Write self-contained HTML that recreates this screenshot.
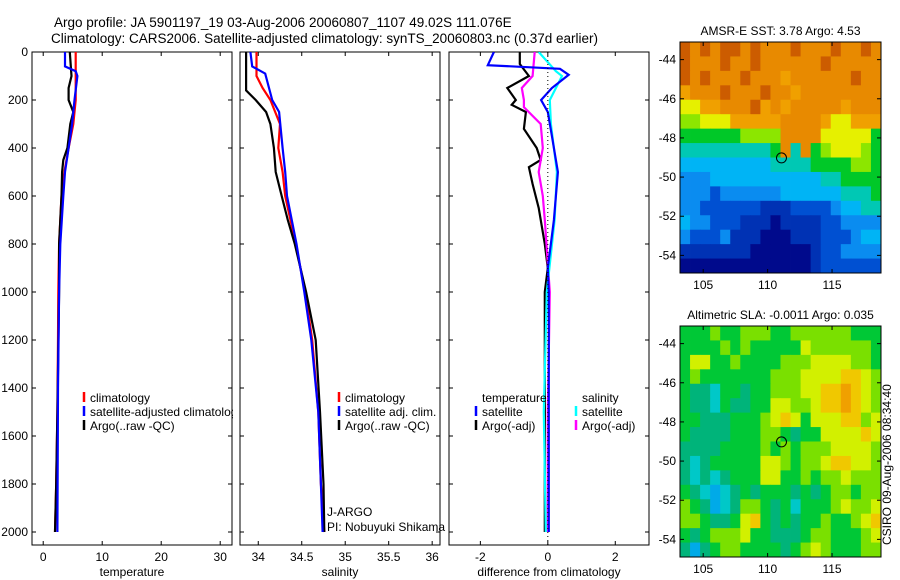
<!DOCTYPE html>
<html><head><meta charset="utf-8"><style>
body{margin:0;background:#fff}
svg{display:block;font-family:"Liberation Sans",sans-serif}
</style></head><body>
<svg id="c" width="900" height="580" viewBox="0 0 900 580"></svg>
<script>
// ---- data ----
const depthTicks=[0,200,400,600,800,1000,1200,1400,1600,1800,2000];
const tempTicks=[0,10,20,30];
const salTicks=[34,34.5,35,35.5,36];
const salTickLabels=['34','34.5','35','35.5','36'];
const diffTicks=[-2,0,2];
const lonTicks=[105,110,115];
const latTicks=[-44,-46,-48,-50,-52,-54];

const tClimD=[0,200,300,400,500,600,800,1000,1200,1500,1800,2000];
const tClimV=[5.5,5.5,5.1,4.3,3.6,3.1,2.7,2.55,2.5,2.4,2.2,2.0];
const tSatD=[0,60,80,100,200,300,400,500,600,800,1000,1400,2000];
const tSatV=[3.7,3.7,5.5,5.8,5.3,4.9,4.3,3.7,3.4,2.9,2.7,2.5,2.4];
const tArgD=[0,100,150,200,250,300,400,450,500,600,700,800,1000,1500,1800,2000];
const tArgV=[4.5,4.8,4.3,4.3,5.1,4.6,4.1,3.4,3.2,3.1,2.9,2.7,2.7,2.4,2.2,2.0];

const sClimD=[0,100,150,200,300,400,500,600,800,1000,1200,1500,1800,2000];
const sClimV=[33.98,33.98,34.05,34.14,34.25,34.23,34.28,34.31,34.43,34.54,34.62,34.69,34.72,34.76];
const sSatD=[0,60,90,200,250,400,500,600,800,1000,1200,1500,1800,2000];
const sSatV=[33.91,33.93,34.08,34.16,34.24,34.28,34.31,34.33,34.44,34.53,34.61,34.69,34.72,34.74];
const sArgD=[0,160,200,250,300,400,500,600,700,800,1000,1200,1500,1800,2000];
const sArgV=[33.86,33.86,33.97,34.09,34.14,34.18,34.2,34.27,34.34,34.42,34.55,34.66,34.71,34.75,34.76];

const dTSatD=[0,55,70,95,150,200,250,350,500,700,900,1000,2000];
const dTSatV=[-1.6,-1.78,0.36,0.62,0.12,-0.2,0,0.12,0.3,0.18,0,0.03,0.03];
const dSSatD=[0,80,100,200,300,500,700,1000,1500,2000];
const dSSatV=[-0.27,0.24,0.42,0.06,0.09,0.27,0.2,-0.03,-0.12,-0.06];
const dTArgD=[0,50,100,150,200,220,250,320,400,450,480,550,650,800,900,1000,1500,2000];
const dTArgV=[-0.83,-0.83,-0.56,-1.2,-0.95,-1.07,-0.65,-0.71,-0.33,-0.21,-0.56,-0.45,-0.27,-0.09,0,-0.09,-0.09,-0.09];
const dSArgD=[0,100,150,200,230,300,400,500,600,700,1000,1500,2000];
const dSArgV=[-0.39,-0.45,-0.77,-0.71,-0.71,-0.21,-0.15,-0.27,-0.15,-0.09,0.06,0,0];

const sstGrid=["bababbabaaabaaabaaba","baaabaabaaaaaabaaaaa","babaaabaaa9aaaaaabaa","9aaabaaabaa9aaaaaaaa",
"8899aaab9a9aaaaa9aaa","7788899999aaaa988999","6666667777aaaa888886","5555555556a5a6788876",
"44444444455556666776","33344444444444556666","33323333334444445556","33222222111222234455",
"43322211101111223333","32223111000111222344","11111110000001223333","00000000000001222222"];
const slaGrid=["33343344433444444333","33334343333354444443","35533433334445555443","34333333344455556654",
"32213323344455667654","32213223355445667654","33222333456535556645","32222333443233555565",
"22223333434344455554","21233333554344566554","21212333553343445444","32101232333232344344",
"43201244323133345445","44322356323233433456","32344453322234433345","20234433332345433344"];
const argoLon=111.076, argoLat=-49.02;

// ---- drawing ----
const svg=document.getElementById('c');const NS='http://www.w3.org/2000/svg';
function el(t,a,p){const e=document.createElementNS(NS,t);for(const k in a)e.setAttribute(k,a[k]);(p||svg).appendChild(e);return e;}
function txt(s,x,y,a,p){const e=el('text',Object.assign({x:x,y:y,'font-size':12,fill:'#000'},a||{}),p);e.textContent=s;return e;}
const Y0=52,YS=0.24, PT=52,PB=545;
const yD=d=>Y0+d*YS;
const panels=[{x0:32,x1:232,lo:-1.9,hi:32,name:'temperature'},{x0:240,x1:440,lo:33.79,hi:36.09,name:'salinity'},{x0:449,x1:649,lo:-2.93,hi:3.0,name:'difference'}];
const fx=(p,v)=>p.x0+(v-p.lo)/(p.hi-p.lo)*(p.x1-p.x0);

const t1=txt('Argo profile: JA 5901197_19 03-Aug-2006 20060807_1107 49.02S 111.076E',54,27,{'font-size':13.5});

const t2=txt('Climatology: CARS2006. Satellite-adjusted climatology: synTS_20060803.nc (0.37d earlier)',51,43,{'font-size':13.5});


const ticksets=[[tempTicks,tempTicks.map(String)],[salTicks,salTickLabels],[diffTicks,diffTicks.map(String)]];
const xl=['temperature','salinity','difference from climatology'];
panels.forEach((p,i)=>{
  const g=el('g',{});
  const cp=el('clipPath',{id:'cp'+i},g);el('rect',{x:p.x0,y:PT,width:p.x1-p.x0,height:PB-PT},cp);
  const fr=el('rect',{x:p.x0,y:PT,width:p.x1-p.x0,height:PB-PT,fill:'none',stroke:'#000','stroke-width':1},g);
  
  depthTicks.forEach(d=>{el('line',{x1:p.x0,x2:p.x0+4,y1:yD(d),y2:yD(d),stroke:'#000'},g);el('line',{x1:p.x1,x2:p.x1-4,y1:yD(d),y2:yD(d),stroke:'#000'},g);});
  const [tv,tl]=ticksets[i];
  tv.forEach((v,j)=>{const x=fx(p,v);el('line',{x1:x,x2:x,y1:PB,y2:PB-4,stroke:'#000'},g);el('line',{x1:x,x2:x,y1:PT,y2:PT+4,stroke:'#000'},g);
    const l=txt(tl[j],x,561,{'text-anchor':'middle'},g);});
  const xt=txt(xl[i],(p.x0+p.x1)/2,576,{'text-anchor':'middle'},g);
  p.g=g;
});
depthTicks.forEach(d=>{const l=txt(String(d),28,yD(d)+4,{'text-anchor':'end'});});
// zero dotted line in diff panel
const zl=el('line',{x1:fx(panels[2],0),x2:fx(panels[2],0),y1:PT,y2:PB,stroke:'#000','stroke-dasharray':'1,3'});


function series(p,i,D,V,col,name){
  const pts=D.map((d,k)=>fx(p,V[k]).toFixed(1)+','+yD(d).toFixed(1)).join(' ');
  const e=el('polyline',{points:pts,fill:'none',stroke:col,'stroke-width':2.2,'clip-path':'url(#cp'+i+')'},p.g);
  
}
const P=panels;
series(P[0],0,tClimD,tClimV,'#ff0000','temp-climatology-line');
series(P[0],0,tArgD,tArgV,'#000','temp-argo-line');
series(P[0],0,tSatD,tSatV,'#0000ff','temp-satellite-line');
series(P[1],1,sClimD,sClimV,'#ff0000','sal-climatology-line');
series(P[1],1,sArgD,sArgV,'#000','sal-argo-line');
series(P[1],1,sSatD,sSatV,'#0000ff','sal-satellite-line');
series(P[2],2,dTArgD,dTArgV,'#000','dtemp-argo-line');
series(P[2],2,dSArgD,dSArgV,'#ff00ff','dsal-argo-line');
series(P[2],2,dSSatD,dSSatV,'#00ffff','dsal-satellite-line');
series(P[2],2,dTSatD,dTSatV,'#0000ff','dtemp-satellite-line');

function legend(x,y,items,name,clip){
  const g=el('g',{});
  if(clip){const c=el('clipPath',{id:name+'c'},g);el('rect',{x:x-5,y:y-10,width:clip,height:50},c);g.setAttribute('clip-path','url(#'+name+'c)');}
  items.forEach((it,k)=>{const yy=y+k*14;
    if(it[1]){const b=el('line',{x1:x,x2:x,y1:yy-5,y2:yy+5,stroke:it[1],'stroke-width':2.5},g);}
    const t=txt(it[0],x+6,yy+5,{},g);});
}
legend(84,397,[['climatology','#ff0000'],['satellite-adjusted climatology','#0000ff'],['Argo(..raw -QC)','#000']],'temp-legend',154);
legend(339,397,[['climatology','#ff0000'],['satellite adj. clim.','#0000ff'],['Argo(..raw -QC)','#000']],'sal-legend');
legend(476,397,[['temperature',null],['satellite','#0000ff'],['Argo(-adj)','#000']],'dtemp-legend');
legend(576,397,[['salinity',null],['satellite','#00ffff'],['Argo(-adj)','#ff00ff']],'dsal-legend');
const j1=txt('J-ARGO',327,516);
const j2=txt('PI: Nobuyuki Shikama',327,531);

// maps
const sstPal={0:'#000a8c',1:'#0032b4',2:'#0050d2',3:'#0a8cf0',4:'#00b4f5',5:'#00c8b4',6:'#00c828',7:'#8ce600',8:'#e6f000',9:'#f0a000',a:'#e88a00',b:'#cc5c00'};
const slaPal={0:'#00aae8',1:'#00c8c8',2:'#00b47a',3:'#00c836',4:'#7ae000',5:'#d2f000',6:'#f0c800',7:'#f0a000'};
const LON0=103.2,LON1=118.8,LAT0=-43.1,LAT1=-54.9;
function map(top,bot,grid,pal,title,name){
  const x0=680,x1=881;const g=el('g',{});
  const lx=v=>x0+(v-LON0)/(LON1-LON0)*(x1-x0), ly=v=>top+(v-LAT0)/(LAT1-LAT0)*(bot-top);
  const nr=grid.length,nc=grid[0].length,cw=(x1-x0)/nc,ch=(bot-top)/nr;
  grid.forEach((row,r)=>{for(let c=0;c<nc;c++){const e=el('rect',{x:(x0+c*cw).toFixed(2),y:(top+r*ch).toFixed(2),width:(cw+0.4).toFixed(2),height:(ch+0.4).toFixed(2),fill:pal[row[c]]},g);
    }});
  const f=el('rect',{x:x0,y:top,width:x1-x0,height:bot-top,fill:'none',stroke:'#000'},g);
  lonTicks.forEach(v=>{const x=lx(v);el('line',{x1:x,x2:x,y1:top,y2:top+4,stroke:'#000'},g);el('line',{x1:x,x2:x,y1:bot,y2:bot-4,stroke:'#000'},g);
    const l=txt(String(v),x,bot+16,{'text-anchor':'middle'},g);});
  latTicks.forEach(v=>{const y=ly(v);el('line',{x1:x0,x2:x0+4,y1:y,y2:y,stroke:'#000'},g);el('line',{x1:x1,x2:x1-4,y1:y,y2:y,stroke:'#000'},g);
    const l=txt(String(v).replace('-','-'),676,y+4,{'text-anchor':'end'},g);});
  const m=el('circle',{cx:lx(argoLon),cy:ly(argoLat),r:5,fill:'none',stroke:'#000','stroke-width':1},g);
  const t=txt(title,(x0+x1)/2,top-7,{'text-anchor':'middle'},g);
}
map(42,273,sstGrid,sstPal,'AMSR-E SST: 3.78 Argo: 4.53','sst-map');
map(326,557,slaGrid,slaPal,'Altimetric SLA: -0.0011 Argo: 0.035','sla-map');
const cs=txt('CSIRO 09-Aug-2006 08:34:40',0,0,{transform:'translate(891,545) rotate(-90)'});

</script>
</body></html>
